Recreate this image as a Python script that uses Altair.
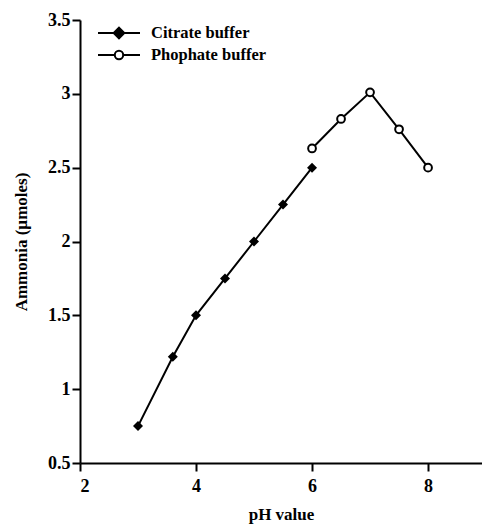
import altair as alt
import pandas as pd

series_names = ["Citrate buffer", "Phophate buffer"]
citrate_ph = [3, 3.6, 4, 4.5, 5, 5.5, 6]
citrate_nh3 = [0.75, 1.22, 1.5, 1.75, 2.0, 2.25, 2.5]
phos_ph = [6, 6.5, 7, 7.5, 8]
phos_nh3 = [2.63, 2.83, 3.01, 2.76, 2.5]
x_ticks = [2, 4, 6, 8]
y_ticks = [0.5, 1, 1.5, 2, 2.5, 3, 3.5]

df = pd.concat([
    pd.DataFrame({"pH": citrate_ph, "ammonia": citrate_nh3, "series": series_names[0]}),
    pd.DataFrame({"pH": phos_ph, "ammonia": phos_nh3, "series": series_names[1]}),
], ignore_index=True)

FONT = "Liberation Serif"

x = alt.X("pH:Q",
          scale=alt.Scale(domain=[2, 8.93], nice=False, zero=False),
          axis=alt.Axis(values=x_ticks, format="d", title="pH value",
                        labelPadding=6, titlePadding=11))
y = alt.Y("ammonia:Q",
          scale=alt.Scale(domain=[0.5, 3.5], nice=False, zero=False),
          axis=alt.Axis(values=y_ticks, format="~g", title="Ammonia (µmoles)",
                        labelPadding=2, titlePadding=17))

base = alt.Chart(df)

lines = base.mark_line(color="black", strokeWidth=2).encode(x=x, y=y, detail="series:N")

citrate_pts = base.transform_filter(alt.datum.series == series_names[0]).mark_point(
    shape="diamond", filled=True, color="black", size=100, opacity=1
).encode(x=x, y=y)

phos_pts = base.transform_filter(alt.datum.series == series_names[1]).mark_point(
    shape="circle", filled=True, fill="white", stroke="black", strokeWidth=2, size=60, opacity=1
).encode(x=x, y=y)

diamond_path = "M-2.1,0H2.1M0,-0.53L0.53,0L0,0.53L-0.53,0Z"
circle_path = ("M-2.1,0H-0.42M0.42,0H2.1"
               "M-0.42,0A0.42,0.42,0,1,0,0.42,0A0.42,0.42,0,1,0,-0.42,0Z")

legend_layer = base.transform_filter("false").mark_point(
    filled=True, stroke="black", strokeWidth=2, opacity=1
).encode(
    x=x, y=y,
    color=alt.Color("series:N",
                    scale=alt.Scale(domain=series_names, range=["black", "white"]),
                    legend=alt.Legend(title=None, orient="none", legendX=28, legendY=2,
                                      symbolSize=400, symbolStrokeWidth=2,
                                      symbolStrokeColor="black", labelOffset=21,
                                      rowPadding=1, padding=0,
                                      labelFont=FONT, labelFontSize=16.5,
                                      labelFontWeight="bold", labelColor="black")),
    shape=alt.Shape("series:N",
                    scale=alt.Scale(domain=series_names, range=[diamond_path, circle_path])),
)

chart = alt.layer(lines, citrate_pts, phos_pts, legend_layer).properties(
    width=402, height=443,
    autosize=alt.AutoSizeParams(type="none"),
    padding={"left": 80, "top": 20, "right": 0, "bottom": 66},
).configure_view(stroke=None).configure_axis(
    grid=False, domainColor="black", domainWidth=2, tickColor="black", tickWidth=2,
    tickSize=8, labelFont=FONT, labelFontSize=18, labelFontWeight="bold",
    labelColor="black", titleFont=FONT, titleFontSize=17, titleFontWeight="bold",
    titleColor="black",
)

chart.save("out.html", embed_options={"renderer": "svg", "actions": False})
